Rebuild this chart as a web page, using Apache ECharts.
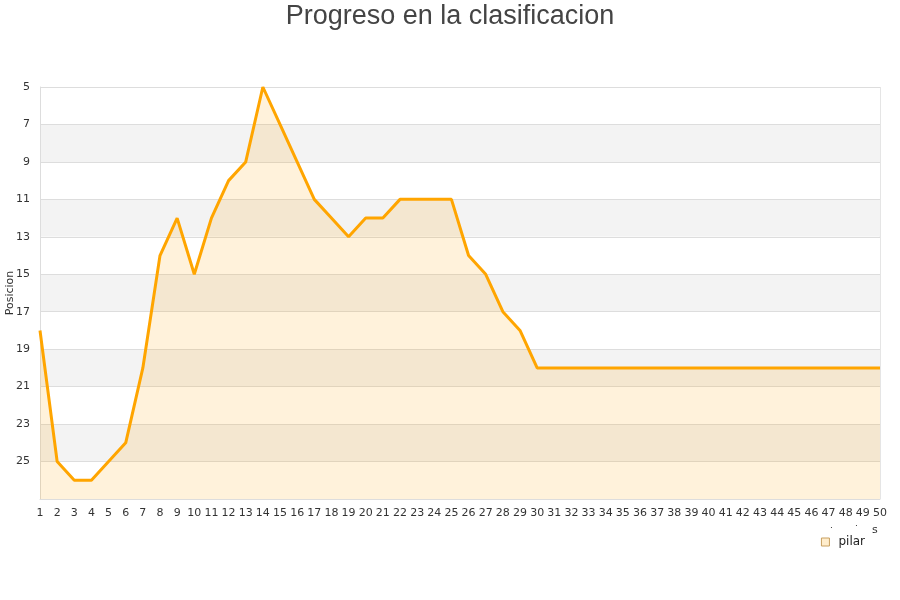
<!DOCTYPE html>
<html>
<head>
<meta charset="utf-8">
<script src="https://cdn.jsdelivr.net/npm/echarts@6/dist/echarts.min.js"></script>
<style>html,body{margin:0;padding:0;background:#fff}#c{width:900px;height:600px}</style>
</head>
<body>
<div id="c"></div>
<script>
var jornadas = [];
for (var i = 1; i <= 50; i++) jornadas.push(String(i));
var seriesName = 'pilar';
var posiciones = [18,25,26,26,25,24,20,14,12,15,12,10,9,5,7,9,11,12,13,12,12,11,11,11,11,14,15,17,18,20,
  20,20,20,20,20,20,20,20,20,20,20,20,20,20,20,20,20,20,20,20];
var yTicks = {min: 5, max: 27, interval: 2};

var chart = echarts.init(document.getElementById('c'));
chart.setOption({
  animation: false,
  title: {text: 'Progreso en la clasificacion', left: 'center', top: -2,
    textStyle: {fontFamily: 'Liberation Sans', fontSize: 27, fontWeight: 'normal', color: '#444'}},
  grid: {left: 40, right: 20, top: 87, bottom: 101, containLabel: false, outerBoundsMode: 'none'},
  legend: {data: [{name: seriesName, icon: 'rect'}], right: 30, top: 531, itemWidth: 8, itemHeight: 8,
    itemStyle: {color: 'rgba(255,165,0,0.2)', borderColor: '#c8a060', borderWidth: 1},
    textStyle: {fontFamily: 'DejaVu Sans', fontSize: 12, color: '#222', padding: [0, 0, 0, 4]}},
  graphic: [
    {type: 'text', left: 872, top: 525, style: {text: 's', fontFamily: 'DejaVu Sans', fontSize: 11, fill: '#333'}},
    {type: 'text', left: 855, top: 519, style: {text: '.', fontFamily: 'DejaVu Sans', fontSize: 9, fill: '#333'}},
    {type: 'text', left: 830, top: 521, style: {text: '.', fontFamily: 'DejaVu Sans', fontSize: 9, fill: '#333'}},
    {type: 'rect', shape: {x: 880, y: 87, width: 0, height: 412}, style: {stroke: '#ddd', fill: null, lineWidth: 1}}
  ],
  xAxis: {type: 'category', data: jornadas, boundaryGap: false,
    axisLine: {show: true, lineStyle: {color: '#ddd'}},
    axisTick: {show: false},
    axisLabel: {interval: 0, fontFamily: 'DejaVu Sans', fontSize: 11, color: '#333', margin: 9},
    splitLine: {show: false}},
  yAxis: {type: 'value', inverse: true, min: yTicks.min, max: yTicks.max, interval: yTicks.interval,
    name: 'Posicion', nameLocation: 'middle', nameGap: 24, nameRotate: 90, nameMoveOverlap: false,
    nameTextStyle: {fontFamily: 'DejaVu Sans', fontSize: 11, color: '#333'},
    axisLine: {show: true, lineStyle: {color: '#ddd'}},
    axisTick: {show: false},
    axisLabel: {fontFamily: 'DejaVu Sans', fontSize: 11, color: '#333', margin: 10,
      formatter: function (v) { return v === 27 ? '' : v; }},
    splitLine: {show: true, lineStyle: {color: '#ddd'}},
    splitArea: {show: true, areaStyle: {color: ['#ffffff', '#f3f3f3']}}},
  series: [{name: seriesName, type: 'line', data: posiciones, symbol: 'none', smooth: false,
    lineStyle: {color: '#FFA500', width: 3},
    itemStyle: {color: '#FFA500'},
    areaStyle: {color: 'rgba(255,165,0,0.2)', origin: 'end'}}]
});
</script>
</body>
</html>
